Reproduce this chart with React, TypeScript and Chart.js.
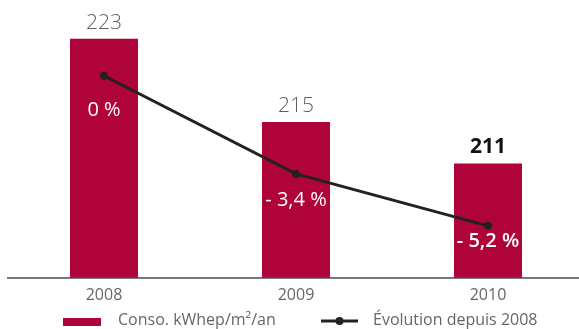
import React, { useEffect, useRef } from "react";
import { Chart, registerables } from "chart.js";

Chart.register(...registerables);

const years = ["2008", "2009", "2010"];
const consumption = [223, 215, 211];
const evolution = [0, -3.4, -5.2];
const evolutionLabels = ["0 %", "- 3,4 %", "- 5,2 %"];
const barLegend = "Conso. kWhep/m²/an";
const lineLegend = "Évolution depuis 2008";
const highlightIndex = 2;

const FONT = "'Open Sans', 'DejaVu Sans', sans-serif";
const RED = "#b0033a";
const GREY = "#666666";
const DARK = "#222222";

const pctOffsets = [72, 78, 78];

const labelsPlugin = {
  id: "customLabels",
  afterDatasetsDraw(chart: any) {
    const ctx = chart.ctx as CanvasRenderingContext2D;
    const bars = chart.getDatasetMeta(0).data;
    ctx.save();
    ctx.textAlign = "center";
    bars.forEach((bar: any, i: number) => {
      const bold = i === highlightIndex;
      ctx.textBaseline = "alphabetic";
      ctx.font = `${bold ? 700 : 300} 21px ${FONT}`;
      ctx.fillStyle = bold ? "#111111" : "#5e5e5e";
      ctx.fillText(String(consumption[i]), bar.x, bar.y - 10);
      ctx.textBaseline = "middle";
      ctx.font = `${bold ? 600 : 400} 20px ${FONT}`;
      ctx.fillStyle = "#ffffff";
      ctx.fillText(evolutionLabels[i], bar.x, bar.y + pctOffsets[i]);
    });
    // legend
    ctx.textAlign = "left";
    ctx.textBaseline = "middle";
    ctx.font = `400 16px ${FONT}`;
    ctx.fillStyle = RED;
    ctx.fillRect(63, 318, 38, 8);
    ctx.fillStyle = GREY;
    ctx.fillText(barLegend, 118, 320);
    ctx.strokeStyle = DARK;
    ctx.lineWidth = 3;
    ctx.beginPath();
    ctx.moveTo(321, 321);
    ctx.lineTo(358, 321);
    ctx.stroke();
    ctx.fillStyle = DARK;
    ctx.beginPath();
    ctx.arc(339.5, 321, 4, 0, Math.PI * 2);
    ctx.fill();
    ctx.fillStyle = GREY;
    ctx.fillText(lineLegend, 373, 320);
    ctx.restore();
  },
};

export default function App() {
  const ref = useRef<HTMLCanvasElement>(null);
  useEffect(() => {
    const chart = new Chart(ref.current as HTMLCanvasElement, {
      type: "bar",
      data: {
        labels: years,
        datasets: [
          {
            type: "bar",
            label: barLegend,
            data: consumption,
            backgroundColor: RED,
            yAxisID: "y",
            barPercentage: 0.354,
            categoryPercentage: 1,
            order: 1,
          },
          {
            type: "line",
            label: lineLegend,
            data: evolution,
            borderColor: DARK,
            backgroundColor: DARK,
            borderWidth: 3,
            pointRadius: 4,
            pointBorderWidth: 0,
            pointBackgroundColor: DARK,
            tension: 0,
            yAxisID: "y1",
            order: 0,
          },
        ],
      } as any,
      options: {
        responsive: false,
        devicePixelRatio: 1,
        animation: false,
        layout: { padding: { left: 8, right: 6, top: 18, bottom: 16 } },
        plugins: {
          legend: { display: false },
          tooltip: { enabled: false },
        },
        scales: {
          x: {
            grid: { display: false, drawTicks: false },
            border: { display: true, color: "#777777", width: 2 },
            ticks: { color: GREY, padding: 8, font: { family: FONT, size: 16, weight: "400" } },
          },
          y: { display: false, min: 200, max: 225 },
          y1: { display: false, min: -7, max: 2, position: "right" },
        },
      } as any,
      plugins: [labelsPlugin],
    });
    return () => chart.destroy();
  }, []);
  return (
    <div
      style={{
        position: "fixed",
        left: 0,
        top: 0,
        width: 579,
        height: 329,
        overflow: "hidden",
        background: "#ffffff",
      }}
    >
      <canvas ref={ref} width={590} height={329} style={{ display: "block", width: 590, height: 329 }} />
    </div>
  );
}
